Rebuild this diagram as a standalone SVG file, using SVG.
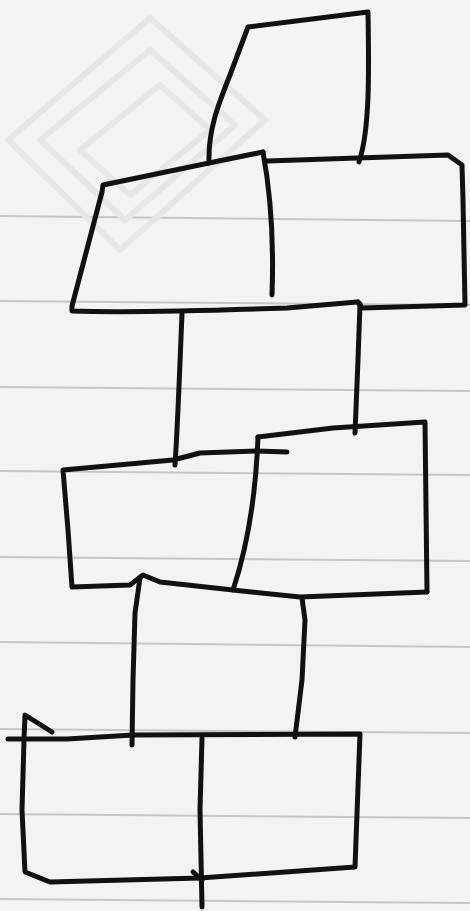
<svg xmlns="http://www.w3.org/2000/svg" width="470" height="911" viewBox="0 0 470 911">
  <defs>
    <style>
      .rule { stroke: #c6c6c6; stroke-width: 2; fill: none; }
      .ghost { stroke: #e7e7e7; stroke-width: 6; fill: none; stroke-linejoin: round; stroke-linecap: round; }
      .ink { stroke: #111; stroke-width: 5; fill: none; stroke-linejoin: round; stroke-linecap: round; }
    </style>
  </defs>
  <rect width="470" height="911" fill="#f3f3f3"/>
  <g id="paper-rules">
    <path class="rule" d="M0,216 L470,221"/>
    <path class="rule" d="M0,301 L470,305"/>
    <path class="rule" d="M0,387 L470,391"/>
    <path class="rule" d="M0,471 L470,475"/>
    <path class="rule" d="M0,557 L470,561"/>
    <path class="rule" d="M0,642 L470,647"/>
    <path class="rule" d="M0,729 L470,733"/>
    <path class="rule" d="M0,814 L470,818"/>
    <path class="rule" d="M0,899 L470,903"/>
  </g>
  <g id="ghost">
    <path class="ghost" d="M8,140 L150,18 L265,120 L120,250 Z"/>
    <path class="ghost" d="M40,140 L150,50 L235,125 L125,220 Z"/>
    <path class="ghost" d="M80,150 L160,85 L210,130 L130,195 Z"/>
  </g>
  <g id="block-top">
    <path class="ink" d="M209,163 C208,130 218,105 230,75 L248,27 L368,12 C369,70 370,130 359,162"/>
  </g>
  <g id="block-row2-left">
    <path class="ink" d="M263,152 L209,163 L103,185 L102,192 L72,306 L72,311 C130,313 200,311 287,308 L357,302"/>
    <path class="ink" d="M263,152 C270,190 274,240 272,295"/>
  </g>
  <g id="block-row2-right">
    <path class="ink" d="M267,161 L448,155 L462,165 L463,200 L465,305 L362,308 L358,302"/>
  </g>
  <g id="block-row3">
    <path class="ink" d="M182,314 C180,360 178,420 175,465"/>
    <path class="ink" d="M360,304 L358,360 L355,433"/>
  </g>
  <g id="block-row4-left">
    <path class="ink" d="M287,452 L257,451 L200,453 L173,460 L63,470 L68,530 L72,587 L130,585 L143,575 L160,582 L233,590 L300,597 L427,592"/>
  </g>
  <g id="block-row4-right">
    <path class="ink" d="M258,437 L333,428 L425,422 L427,592"/>
    <path class="ink" d="M258,437 C256,490 248,545 233,590"/>
  </g>
  <g id="block-row5">
    <path class="ink" d="M140,578 L135,613 L133,680 L132,745"/>
    <path class="ink" d="M302,598 L305,620 L302,680 L295,737"/>
  </g>
  <g id="block-row6">
    <path class="ink" d="M8,739 L67,739 L133,735 L360,734 L355,867 L200,878 L50,882 L25,872 L22,810 L24,740 L25,715 L52,732"/>
    <path class="ink" d="M202,738 L200,810 L202,907"/>
    <path class="ink" d="M193,872 L202,880"/>
  </g>
</svg>
